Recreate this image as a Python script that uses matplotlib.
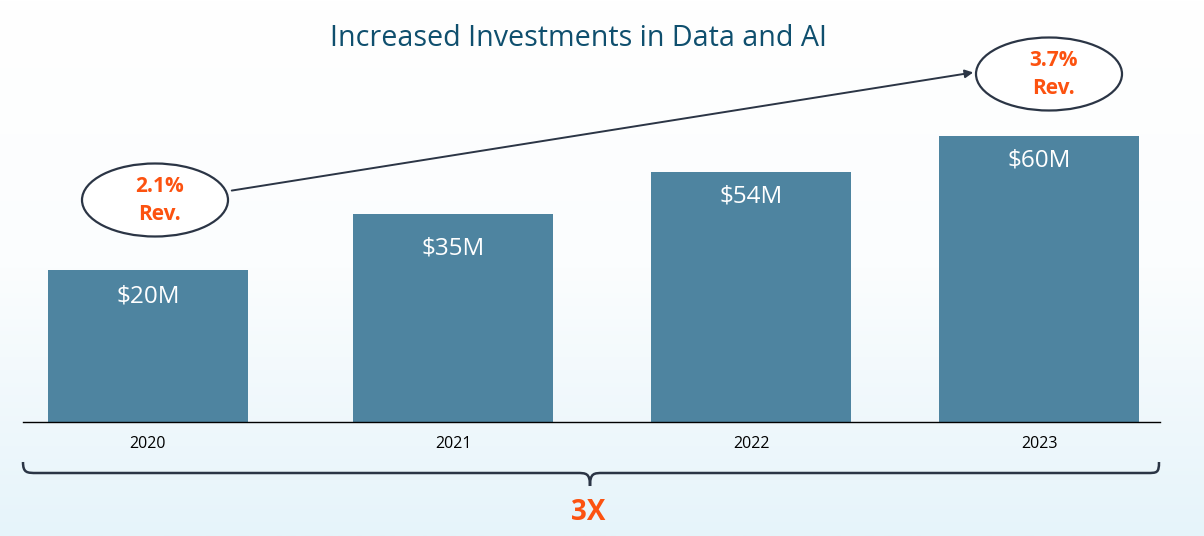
import numpy as np
import matplotlib
matplotlib.use("Agg")
import matplotlib.pyplot as plt
from matplotlib.patches import Ellipse, PathPatch, FancyArrowPatch
from matplotlib.path import Path
from matplotlib.colors import LinearSegmentedColormap

# ---- data ----
years = ["2020", "2021", "2022", "2023"]
bar_heights = [152, 208, 250, 286]          # visual bar heights
bar_labels = ["$20M", "$35M", "$54M", "$60M"]
bar_centers = [148, 453, 751, 1039]
start_rev = ["2.1%", "Rev."]
end_rev = ["3.7%", "Rev."]
growth_label = "3X"
title = "Increased Investments in Data and AI"

label_offsets = [-27, -35, -25, -25]        # pixel offsets of labels below bar tops

BAR_COLOR = "#4e84a0"
ORANGE = "#fc5210"
DARK = "#2b3545"
TITLE_COLOR = "#0f4f6e"
FONT = ["Open Sans", "DejaVu Sans"]

W, H = 1204, 536
fig = plt.figure(figsize=(W / 100, H / 100), dpi=100)

# background gradient
bg = fig.add_axes([0, 0, 1, 1])
grad = np.linspace(0, 1, 256)[:, None]
cmap = LinearSegmentedColormap.from_list("bg", ["#ffffff", "#fbfdfe", "#e6f4fa"])
bg.imshow(grad, aspect="auto", cmap=cmap, extent=[0, 1, 0, 1], origin="upper")
bg.set_axis_off()

# bar axes (pixel-aligned)
x0, x1 = 23, 1160
base_y = 422
top_y = 122
ax = fig.add_axes([x0 / W, (H - base_y) / H, (x1 - x0) / W, (base_y - top_y) / H])
ax.set_xlim(x0, x1)
ax.set_ylim(0, base_y - top_y)
ax.patch.set_alpha(0)
bars = ax.bar(bar_centers, bar_heights, width=200, color=BAR_COLOR, zorder=2)
for b, lab, off in zip(bars, bar_labels, label_offsets):
    ax.annotate(lab, (b.get_x() + b.get_width() / 2, b.get_height()),
                xytext=(0, off), textcoords="offset pixels",
                ha="center", va="center", color="white", fontsize=17.5,
                family=FONT)
for s in ["top", "right", "left"]:
    ax.spines[s].set_visible(False)
ax.spines["bottom"].set_color("black")
ax.spines["bottom"].set_linewidth(1.0)
ax.set_yticks([])
ax.set_xticks(bar_centers)
ax.set_xticklabels(years, family=FONT, fontsize=11.5, color="black")
ax.tick_params(axis="x", length=0, pad=10)

# overlay axes in pixel coords (y downward)
ov = fig.add_axes([0, 0, 1, 1])
ov.set_xlim(0, W)
ov.set_ylim(H, 0)
ov.set_axis_off()
ov.patch.set_alpha(0)

ov.text(579, 38, title, ha="center", va="center", fontsize=20.6,
        color=TITLE_COLOR, family=FONT)

# ellipses
for (cx, cy), lines in [((155, 200), start_rev), ((1049, 74), end_rev)]:
    ov.add_patch(Ellipse((cx, cy), 146, 73, fill=True, facecolor="white",
                         edgecolor=DARK, lw=1.6, zorder=3))
    ov.text(cx + 5, cy - 13, lines[0], ha="center", va="center", fontsize=15,
            color=ORANGE, fontweight="bold", family=FONT, zorder=4)
    ov.text(cx + 5, cy + 15, lines[1], ha="center", va="center", fontsize=15,
            color=ORANGE, fontweight="bold", family=FONT, zorder=4)

# arrow
ov.add_patch(FancyArrowPatch((229, 191), (976, 72), arrowstyle="-|>",
                             mutation_scale=12, color=DARK, lw=1.4, zorder=3))

# brace
by = 473
verts = [(23, 462), (23, by), (27, by), (37, by),
         (577, by),
         (586, by), (590, by), (590, 486),
         (590, by), (594, by), (603, by),
         (1147, by),
         (1157, by), (1159, by), (1159, 462)]
codes = [Path.MOVETO, Path.CURVE4, Path.CURVE4, Path.CURVE4,
         Path.LINETO,
         Path.CURVE4, Path.CURVE4, Path.CURVE4,
         Path.CURVE4, Path.CURVE4, Path.CURVE4,
         Path.LINETO,
         Path.CURVE4, Path.CURVE4, Path.CURVE4]
ov.add_patch(PathPatch(Path(verts, codes), fill=False, edgecolor=DARK, lw=1.8))

ov.text(588, 512, growth_label, ha="center", va="center", fontsize=20,
        color=ORANGE, fontweight="bold", family=FONT)

fig.savefig("out.png", dpi=100)
